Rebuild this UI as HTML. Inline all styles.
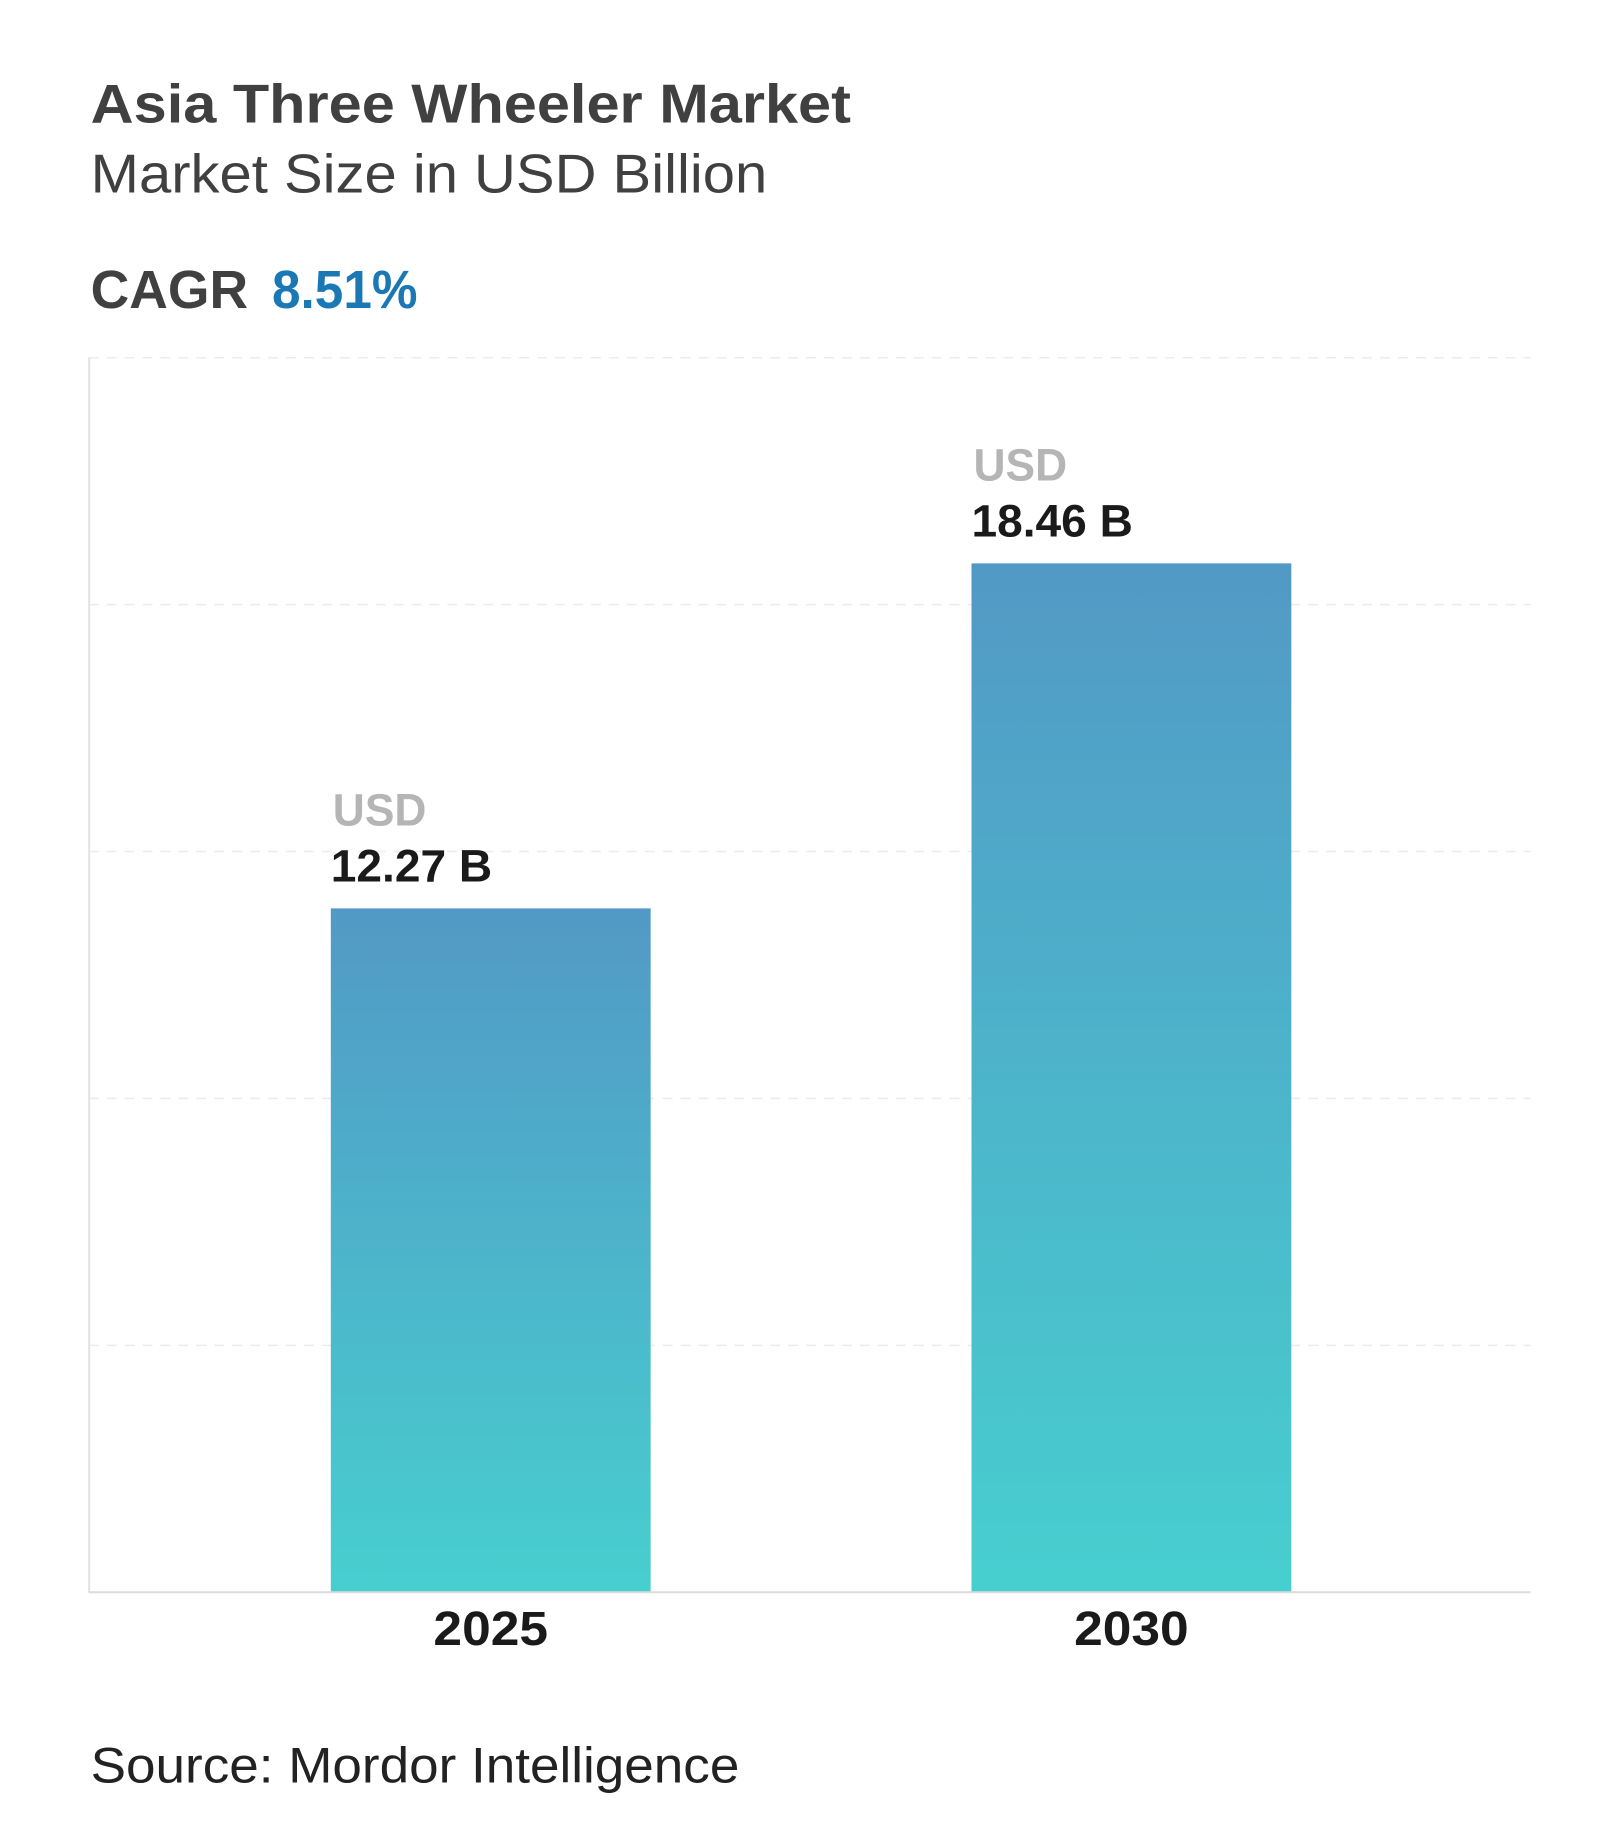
<!DOCTYPE html>
<html><head><meta charset="utf-8"><style>
html,body{margin:0;padding:0;background:#fff;}
svg{display:block;}
</style></head><body>
<svg id="chart" width="1620" height="1826" viewBox="0 0 1620 1826" xmlns="http://www.w3.org/2000/svg" font-family="'Liberation Sans', sans-serif">
<defs>
<linearGradient id="barGrad" x1="0" y1="0" x2="0" y2="1">
<stop offset="0" stop-color="#5299c6"/>
<stop offset="1" stop-color="#47cfcf"/>
</linearGradient>
</defs>
<g transform="scale(0.9964)">
<text x="91" y="123" font-size="55" font-weight="bold" fill="#404040" textLength="763" lengthAdjust="spacingAndGlyphs">Asia Three Wheeler Market</text>
<text x="91" y="193" font-size="55" fill="#404040" textLength="679" lengthAdjust="spacingAndGlyphs">Market Size in USD Billion</text>
<text x="91" y="309" font-size="54" font-weight="bold" fill="#404040" textLength="158" lengthAdjust="spacingAndGlyphs">CAGR</text>
<text x="273" y="309" font-size="54" font-weight="bold" fill="#1a78b4" textLength="146" lengthAdjust="spacingAndGlyphs">8.51%</text>
<g id="grid"></g>
<line x1="89.5" y1="359" x2="89.5" y2="1598" stroke="#e2e2e2" stroke-width="2"/>
<g id="bars"></g>
<line x1="89" y1="1598" x2="1536" y2="1598" stroke="#dcdcdc" stroke-width="2"/>
<text x="91" y="1789" font-size="50" fill="#222" textLength="651" lengthAdjust="spacingAndGlyphs">Source: Mordor Intelligence</text>
</g>
</svg>
<script>
const categories = ["2025", "2030"];
const values = [12.27, 18.46];
const valueLabels = ["12.27 B", "18.46 B"];
const gridTicks = [0, 1, 2, 3, 4, 5];

const NS = "http://www.w3.org/2000/svg";
const plotLeft = 89, plotRight = 1536, plotTop = 359, plotBottom = 1598;
const yMax = 22.15;
const y = v => plotBottom - (v / yMax) * (plotBottom - plotTop);
const barW = 321;
const centers = [492.5, 1135.5];

const grid = document.getElementById('grid');
gridTicks.forEach(t => {
  const gy = plotTop + t * (plotBottom - plotTop) / (gridTicks.length - 1);
  const l = document.createElementNS(NS, 'line');
  
  
  l.setAttribute('x1', plotLeft); l.setAttribute('x2', plotRight);
  l.setAttribute('y1', gy); l.setAttribute('y2', gy);
  l.setAttribute('stroke', '#ececec'); l.setAttribute('stroke-width', '1.5');
  l.setAttribute('stroke-dasharray', '10 8');
  grid.appendChild(l);
});

const bars = document.getElementById('bars');
categories.forEach((c, i) => {
  const cx = centers[i];
  const top = y(values[i]);
  const r = document.createElementNS(NS, 'rect');
  
  
  r.setAttribute('x', cx - barW / 2); r.setAttribute('y', top);
  r.setAttribute('width', barW); r.setAttribute('height', plotBottom - top);
  r.setAttribute('fill', 'url(#barGrad)');
  bars.appendChild(r);

  const u = document.createElementNS(NS, 'text');
  
  
  u.setAttribute('x', cx - barW / 2 + 2); u.setAttribute('y', top - 83);
  u.setAttribute('font-size', '46'); u.setAttribute('font-weight', 'bold');
  u.setAttribute('fill', '#b5b5b5');
  u.setAttribute('textLength', '94'); u.setAttribute('lengthAdjust', 'spacingAndGlyphs');
  u.textContent = 'USD';
  bars.appendChild(u);

  const v = document.createElementNS(NS, 'text');
  
  
  v.setAttribute('x', cx - barW / 2); v.setAttribute('y', top - 27);
  v.setAttribute('font-size', '46'); v.setAttribute('font-weight', 'bold');
  v.setAttribute('fill', '#1a1a1a');
  v.setAttribute('textLength', '162'); v.setAttribute('lengthAdjust', 'spacingAndGlyphs');
  v.textContent = valueLabels[i];
  bars.appendChild(v);

  const xl = document.createElementNS(NS, 'text');
  
  
  xl.setAttribute('x', cx); xl.setAttribute('y', 1651);
  xl.setAttribute('font-size', '48'); xl.setAttribute('font-weight', 'bold');
  xl.setAttribute('fill', '#1a1a1a'); xl.setAttribute('text-anchor', 'middle');
  xl.setAttribute('textLength', '115'); xl.setAttribute('lengthAdjust', 'spacingAndGlyphs');
  xl.textContent = c;
  bars.appendChild(xl);
});
</script>
</body></html>
